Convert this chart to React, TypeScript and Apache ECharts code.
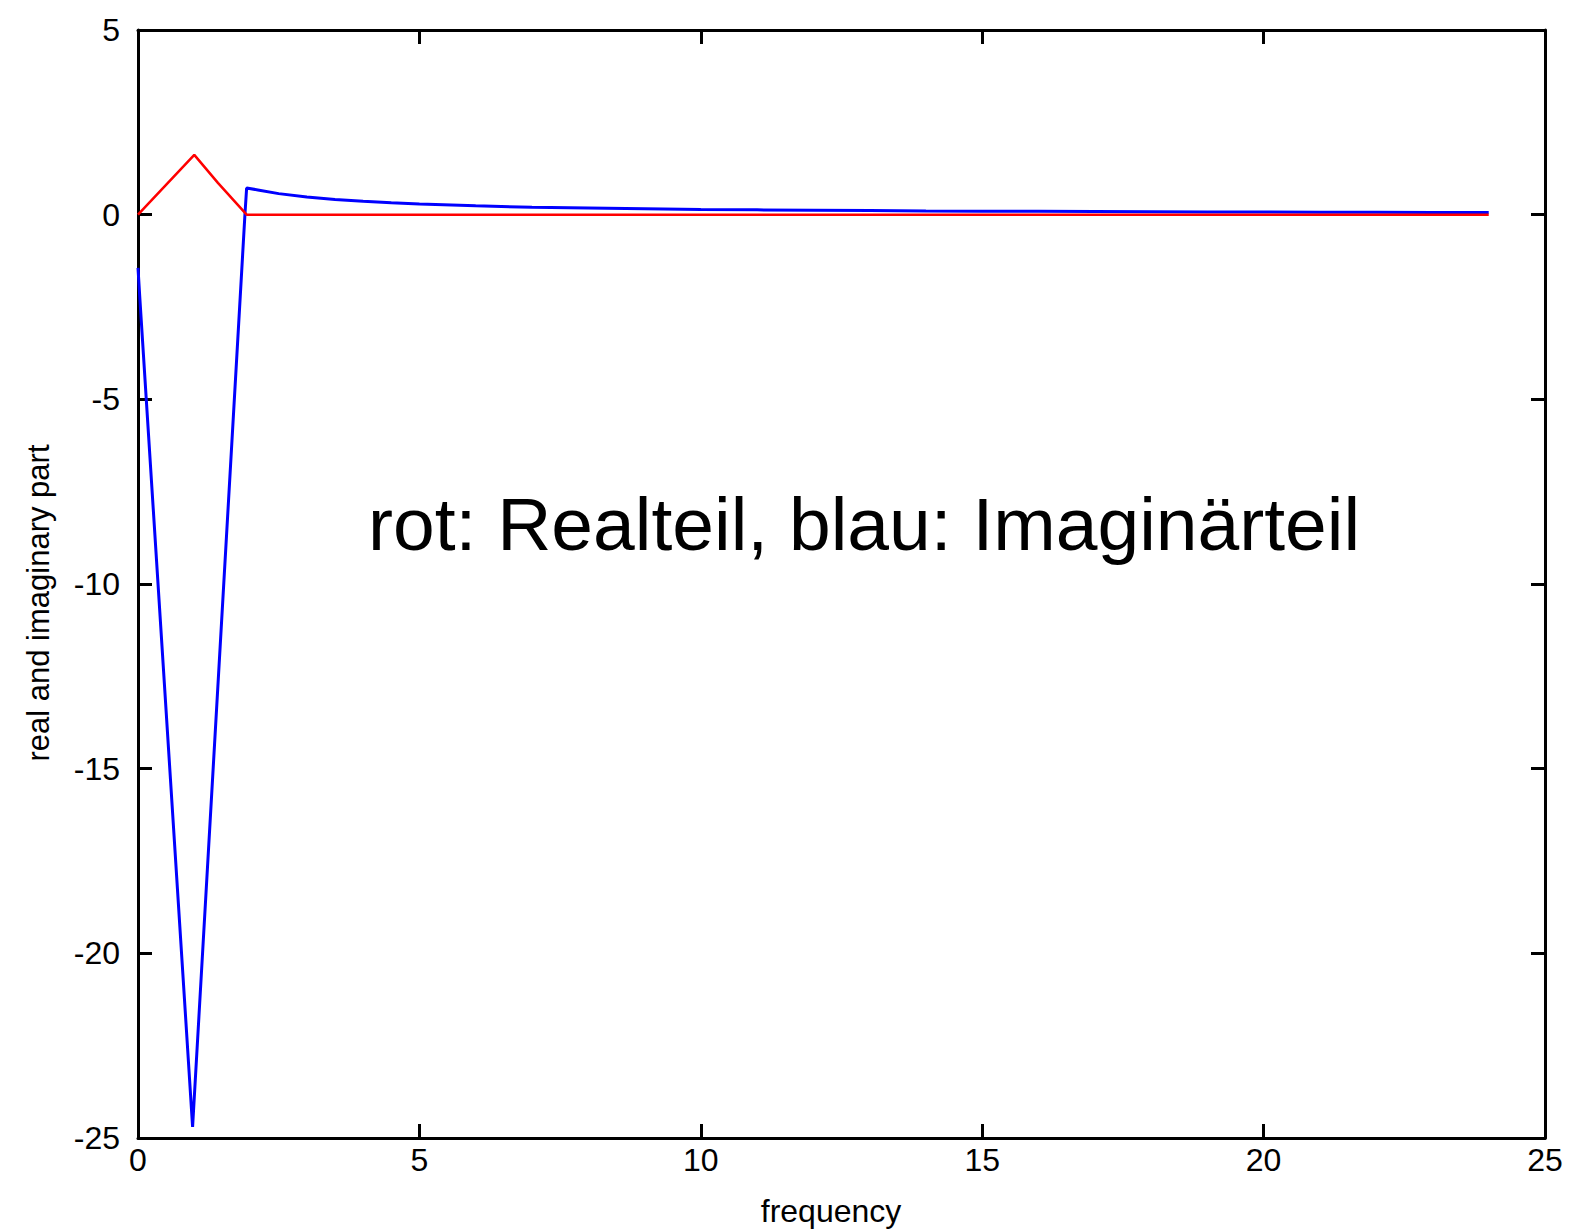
import React, { useEffect, useRef } from "react";
import * as echarts from "echarts";

// Real part (red)
const realFreq = [0, 1, 1.42, 1.93, 3, 4, 5, 6, 8, 10, 12, 14, 16, 18, 20, 22, 24];
const realVals = [0, 1.62, 0.86, 0, 0, 0, 0, 0, 0, 0, 0, 0, 0, 0, 0, 0, 0];

// Imaginary part (blue)
const imagFreq = [0, 0.03, 0.97, 1.9, 1.93, 2.13, 2.5, 3, 3.5, 4, 4.5, 5, 6, 7, 8, 9, 10, 11, 12, 13, 14, 15, 16, 17, 18, 19, 20, 21, 22, 23, 24];
const imagVals = [-1.44, -2.2, -24.7, 0, 0.72, 0.67, 0.57, 0.48, 0.41, 0.36, 0.32, 0.29, 0.24, 0.2, 0.18, 0.16, 0.14, 0.13, 0.12, 0.11, 0.1, 0.095, 0.09, 0.085, 0.08, 0.075, 0.07, 0.068, 0.065, 0.062, 0.06];

const xTicks = { min: 0, max: 25, interval: 5 };
const yTicks = { min: -25, max: 5, interval: 5 };

const xName = "frequency";
const yName = "real and imaginary part";
const annotation = "rot: Realteil, blau: Imaginärteil";

const FONT = "'Liberation Sans', Arial, sans-serif";

export default function App() {
  const ref = useRef<HTMLDivElement>(null);
  useEffect(() => {
    document.body.style.margin = "0";
    const chart = echarts.init(ref.current!, null, { renderer: "svg" });
    const axisLine = { show: true, onZero: false, lineStyle: { color: "#000", width: 3 } };
    const tick = { show: true, inside: true, length: 14, lineStyle: { color: "#000", width: 3 } };
    const label = { color: "#000", fontSize: 32, fontFamily: FONT };
    chart.setOption({
      animation: false,
      backgroundColor: "#fff",
      grid: { left: 138, top: 30, right: 44, bottom: 94, containLabel: false },
      xAxis: [
        {
          type: "value", position: "bottom", ...xTicks,
          axisLine, axisTick: tick, splitLine: { show: false },
          axisLabel: { ...label, margin: 6 },
        },
        {
          type: "value", position: "top", ...xTicks,
          axisLine, axisTick: tick, splitLine: { show: false },
          axisLabel: { show: false },
        },
      ],
      yAxis: [
        {
          type: "value", position: "left", ...yTicks,
          axisLine, axisTick: tick, splitLine: { show: false },
          axisLabel: { ...label, margin: 18, padding: [0, 0, 8, 0] },
        },
        {
          type: "value", position: "right", ...yTicks,
          axisLine, axisTick: tick, splitLine: { show: false },
          axisLabel: { show: false },
        },
      ],
      series: [
        {
          type: "line", name: "imag", xAxisIndex: 0, yAxisIndex: 0,
          data: imagFreq.map((f, i) => [f, imagVals[i]]),
          showSymbol: false, lineStyle: { color: "#0000ff", width: 3 },
          itemStyle: { color: "#0000ff" },
        },
        {
          type: "line", name: "real", xAxisIndex: 0, yAxisIndex: 0,
          data: realFreq.map((f, i) => [f, realVals[i]]),
          showSymbol: false, lineStyle: { color: "#ff0000", width: 2.5 },
          itemStyle: { color: "#ff0000" },
        },
      ],
      graphic: [
        {
          type: "text", x: 831, y: 1211,
          style: { text: xName, fill: "#000", font: `32px ${FONT}`, align: "center", verticalAlign: "middle" },
        },
        {
          type: "text", x: 38, y: 603, rotation: Math.PI / 2,
          style: { text: yName, fill: "#000", font: `31px ${FONT}`, align: "center", verticalAlign: "middle" },
        },
        {
          type: "text", x: 368, y: 524,
          style: { text: annotation, fill: "#000", font: `75px ${FONT}`, align: "left", verticalAlign: "middle" },
        },
      ],
    });
    return () => chart.dispose();
  }, []);
  return <div ref={ref} style={{ width: 1589, height: 1232 }} />;
}
